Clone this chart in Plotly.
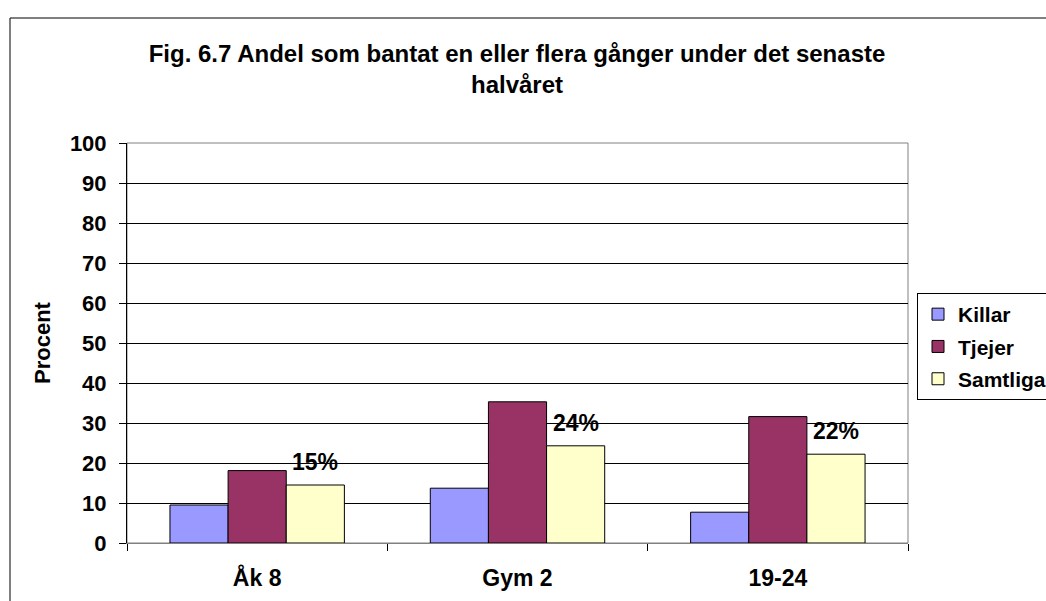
import plotly.graph_objects as go

categories = ["Åk 8", "Gym 2", "19-24"]
killar = [9.5, 13.7, 7.7]
tjejer = [18.1, 35.3, 31.6]
samtliga = [14.5, 24.3, 22.2]
samtliga_labels = ["15%", "24%", "22%"]
series_names = ["Killar", "Tjejer", "Samtliga"]
colors = ["#9999FF", "#993366", "#FFFFCC"]
y_ticks = list(range(0, 101, 10))

FONT = "Arial, 'Liberation Sans', sans-serif"
W, H = 1046, 601
ML, MR, MT, MB = 127, 138, 143, 58
PW, PH = W - ML - MR, H - MT - MB

def px_x(p):
    return (p - ML) / PW

def px_y(p):
    return (H - MB - p) / PH

fig = go.Figure()
for name, vals, col in zip(series_names, [killar, tjejer, samtliga], colors):
    fig.add_trace(go.Bar(
        x=categories, y=vals, name=name, legendgroup=name,
        marker=dict(color=col, line=dict(color="black", width=1)),
        hoverinfo="x+y+name",
    ))

bargap = 0.33
bw = (1 - bargap) / 3
annotations = []
for i, (v, t) in enumerate(zip(samtliga, samtliga_labels)):
    annotations.append(dict(
        x=i + bw, y=v, xref="x", yref="y", text=t, showarrow=False,
        yanchor="bottom", xanchor="center", yshift=8,
        font=dict(family=FONT, size=23, color="black", weight="bold"),
    ))

annotations.append(dict(
    x=px_x(42), y=0.5, xref="paper", yref="paper", text="Procent",
    textangle=-90, showarrow=False, xanchor="center", yanchor="middle",
    font=dict(family=FONT, size=22, color="black", weight="bold"),
))

shapes = [
    dict(type="rect", xref="paper", yref="paper", x0=0, y0=0, x1=1, y1=1,
         line=dict(color="#808080", width=1), layer="below"),
    dict(type="rect", xref="paper", yref="paper",
         x0=px_x(10), y0=px_y(640), x1=px_x(1100), y1=px_y(18),
         line=dict(color="black", width=1), layer="below"),
]

fig.update_layout(
    width=W, height=H,
    margin=dict(l=ML, r=MR, t=MT, b=MB, autoexpand=False),
    paper_bgcolor="white", plot_bgcolor="white",
    barmode="group", bargap=bargap, bargroupgap=0,
    font=dict(family=FONT, color="black", size=22),
    title=dict(
        text="Fig. 6.7 Andel som bantat en eller flera gånger under det senaste<br>halvåret",
        x=517 / W, xanchor="center", y=1 - 62 / H, yanchor="top",
        font=dict(family=FONT, size=24, color="black", weight="bold"),
    ),
    showlegend=True,
    legend=dict(
        x=px_x(917), y=px_y(293), xanchor="left", yanchor="top",
        bordercolor="black", borderwidth=1, bgcolor="white",
        font=dict(family=FONT, size=21, color="black", weight="bold"),
        traceorder="grouped", tracegroupgap=2, itemwidth=30,
    ),
    xaxis=dict(
        type="category", showline=True, linecolor="#808080", linewidth=1,
        ticks="outside", tickson="boundaries", ticklen=7, tickcolor="black",
        showgrid=False, ticklabelstandoff=14,
        tickfont=dict(family=FONT, size=23, color="black", weight="bold"),
        fixedrange=True,
    ),
    yaxis=dict(
        range=[0, 100], tickvals=y_ticks, showgrid=True, gridcolor="black",
        gridwidth=1, showline=True, linecolor="black", linewidth=1,
        ticks="outside", ticklen=7, tickcolor="black", zeroline=False,
        ticklabelstandoff=8,
        tickfont=dict(family=FONT, size=22, color="black", weight="bold"),
        fixedrange=True,
    ),
    annotations=annotations,
    shapes=shapes,
)

fig.write_html(
    "out.html",
    config={"displayModeBar": False},
    post_script="document.body.style.margin='0';document.body.style.padding='0';document.body.style.overflow='hidden';",
)
